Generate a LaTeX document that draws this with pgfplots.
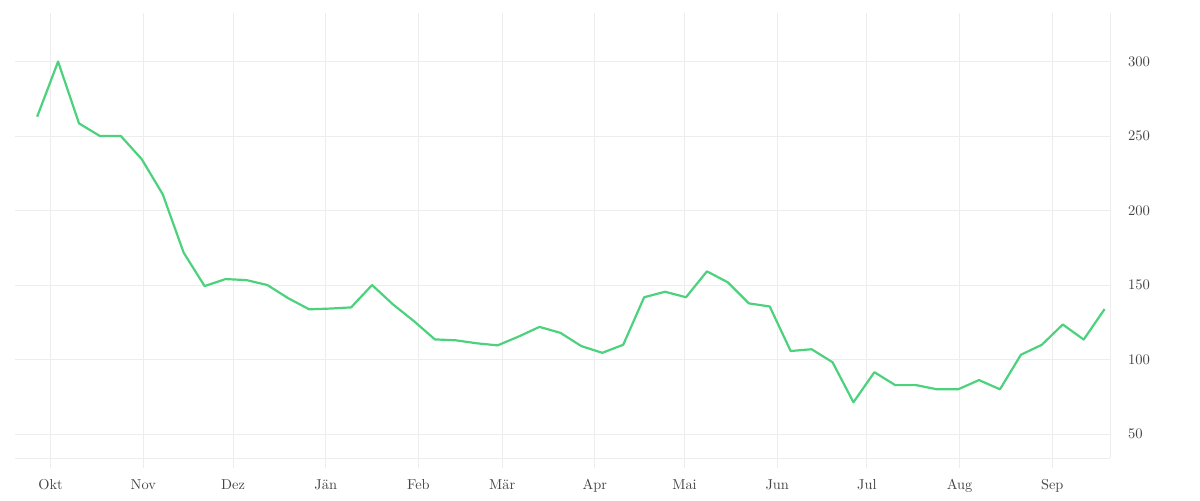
\documentclass[border=0pt]{standalone}
\usepackage{pgfplots}
\pgfplotsset{compat=1.18}
\definecolor{linegreen}{HTML}{4CD27D}
\definecolor{gridgray}{HTML}{EDEDED}
\definecolor{labelgray}{HTML}{444444}

\pgfplotstableread{
x y
-4.5 263.0
2.5 300.0
9.5 258.5
16.5 250.0
23.5 250.0
30.5 234.4
37.5 210.9
44.5 171.7
51.5 149.3
58.5 154.0
65.5 153.3
72.5 150.0
79.5 141.1
86.5 133.7
93.5 134.2
100.5 135.0
107.5 150.0
114.5 137.0
121.5 125.8
128.5 113.5
135.5 112.9
142.5 110.9
149.5 109.5
156.5 115.4
163.5 121.9
170.5 117.9
177.5 109.0
184.5 104.5
191.5 109.9
198.5 141.8
205.5 145.5
212.5 141.8
219.5 159.2
226.5 151.8
233.5 137.7
240.5 135.6
247.5 105.7
254.5 106.9
261.5 98.2
268.5 71.3
275.5 91.5
282.5 82.8
289.5 82.8
296.5 80.0
303.5 80.0
310.5 86.2
317.5 80.0
324.5 103.2
331.5 109.9
338.5 123.5
345.5 113.4
352.5 133.9
}\weekly

\begin{document}
\begin{tikzpicture}
\path (-11.5pt,-31.5pt) rectangle (888.5pt,343.5pt);
\begin{axis}[
    at={(0,0)}, anchor=south west,
    scale only axis,
    width=821pt, height=333.75pt,
    xmin=-11.8, xmax=354.3,
    ymin=33.9, ymax=332.6,
    axis x line*=bottom,
    axis y line*=right,
    axis line style={gridgray, line width=0.75pt, -},
    xtick={0,31,61,92,123,151,182,212,243,273,304,335},
    xticklabels={Okt,Nov,Dez,Jän,Feb,Mär,Apr,Mai,Jun,Jul,Aug,Sep},
    ytick={50,100,150,200,250,300},
    xmajorgrids=true,
    ymajorgrids=true,
    grid style={gridgray, line width=0.75pt},
    xtick align=outside,
    major tick length=7.5pt,
    xtick style={gridgray, line width=0.75pt},
    ytick style={draw=none},
    yticklabel pos=right,
    tick label style={font=\fontsize{10.8}{12}\selectfont, text=labelgray},
    xticklabel style={yshift=-5pt},
    yticklabel style={anchor=west, xshift=10pt},
]
\addplot[linegreen, line width=1.65pt, line join=round] table {\weekly};
\end{axis}
\end{tikzpicture}
\end{document}
